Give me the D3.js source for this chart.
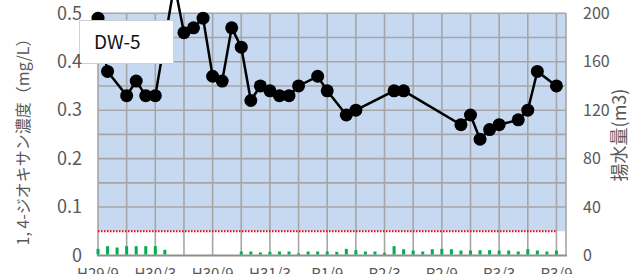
<!DOCTYPE html>
<html lang="ja">
<head>
<meta charset="UTF-8">
<title>DW-5</title>
<script src="https://cdn.jsdelivr.net/npm/d3@7"></script>
<style>
  body { margin: 0; background: #fff; }
  text { font-family: "Noto Sans CJK JP", "Noto Sans", sans-serif; }
</style>
</head>
<body>
<script>
// concentration samples (mg/L), by month
var concMonths = ["2017-09","2017-10","2017-12","2018-01","2018-02","2018-03","2018-05","2018-06",
  "2018-07","2018-08","2018-09","2018-10","2018-11","2018-12","2019-01","2019-02","2019-03",
  "2019-04","2019-05","2019-06","2019-08","2019-09","2019-11","2019-12","2020-04","2020-05",
  "2020-11","2020-12","2021-01","2021-02","2021-03","2021-05","2021-06","2021-07","2021-09"];
var concValues = [0.49,0.38,0.33,0.36,0.33,0.33,0.56,0.46,
  0.47,0.49,0.37,0.36,0.47,0.43,0.32,0.35,0.34,
  0.33,0.33,0.35,0.37,0.34,0.29,0.30,0.34,0.34,
  0.27,0.29,0.24,0.26,0.27,0.28,0.30,0.38,0.35];

// pumped volume (m3), monthly
var pumpMonths = ["2017-09","2017-10","2017-11","2017-12","2018-01","2018-02","2018-03","2018-04",
  "2018-12","2019-01","2019-02","2019-03","2019-04","2019-05","2019-06","2019-07","2019-08",
  "2019-09","2019-10","2019-11","2019-12","2020-01","2020-02","2020-03","2020-04","2020-05",
  "2020-06","2020-07","2020-08","2020-09","2020-10","2020-11","2020-12","2021-01","2021-02",
  "2021-03","2021-04","2021-05","2021-06","2021-07","2021-08","2021-09"];
var pumpValues = [5.5,7.7,6.6,7.7,7.7,7.7,7.7,4.7,
  3.3,3.3,2.5,3,3.3,3.3,1.7,3.3,3.3,
  3.3,3,5.5,4.4,3.3,3.3,2.2,7.7,5.2,
  4.1,3.3,5.2,5.5,5.2,4.1,4.1,4.4,4.4,
  4.1,4.1,3.3,5.2,4.1,3.3,4.1];

var guideValue = 0.05;
var guideRange = ["2017-09", "2021-09"];

var xTickMonths = ["2017-09","2018-03","2018-09","2019-03","2019-09","2020-03","2020-09","2021-03","2021-09"];
var xTickLabels = ["H29/9","H30/3","H30/9","H31/3","R1/9","R2/3","R2/9","R3/3","R3/9"];
var yTicks = [0, 0.1, 0.2, 0.3, 0.4, 0.5];
var y2Ticks = [0, 40, 80, 120, 160, 200];

var w = 630, h = 274;
var plotLeft = 98, plotRight = 566, plotTop = 13.3, plotBottom = 255.5;

function mi(s) {
  var p = s.split("-").map(Number);
  return (p[0] - 2017) * 12 + (p[1] - 9);
}

var x = d3.scaleLinear().domain([0, 49]).range([plotLeft, plotRight]);
var y = d3.scaleLinear().domain([0, 0.5]).range([plotBottom, plotTop]);
var y2 = d3.scaleLinear().domain([0, 200]).range([plotBottom, plotTop]);

var svg = d3.select("body").append("svg")
  .attr("width", w)
  .attr("height", h);

// blue band above the guide value
svg.append("rect")
  .attr("x", x(0)).attr("y", y(0.5))
  .attr("width", x(49) - x(0))
  .attr("height", y(guideValue) - y(0.5))
  .attr("fill", "#c6d9f1");

// grid
var grid = svg.append("g").attr("stroke", "#a6a6a6").attr("stroke-width", 1.6);
grid.selectAll("line.h")
  .data(d3.range(2, 11).map(function(k) { return k * 0.05; }))
  .enter().append("line")
  .attr("class", "h")
  .attr("x1", x(0)).attr("x2", x(49))
  .attr("y1", function(d) { return y(d); })
  .attr("y2", function(d) { return y(d); });
grid.selectAll("line.v")
  .data(d3.range(0, 17).map(function(k) { return k * 3; }).concat([49]))
  .enter().append("line")
  .attr("class", "v")
  .attr("x1", function(d) { return x(d); })
  .attr("x2", function(d) { return x(d); })
  .attr("y1", y(0.5)).attr("y2", y(0));

// bottom axis line
svg.append("line")
  .attr("x1", x(0) - 1).attr("x2", x(49) + 1)
  .attr("y1", y(0)).attr("y2", y(0))
  .attr("stroke", "#8f8f8f").attr("stroke-width", 2);

// pumping bars (right axis)
svg.selectAll("rect.bar")
  .data(pumpValues)
  .enter().append("rect")
  .attr("class", "bar")
  .attr("x", function(d, i) { return x(mi(pumpMonths[i])) - 1.5; })
  .attr("y", function(d) { return y2(d); })
  .attr("width", 3)
  .attr("height", function(d) { return y2(0) - y2(d) - 1; })
  .attr("fill", "#00b050");

// guide line
svg.append("path")
  .datum(guideRange)
  .attr("d", d3.line()
    .x(function(d) { return x(mi(d)); })
    .y(function() { return y(guideValue); }))
  .attr("stroke", "#ff0000")
  .attr("stroke-width", 2)
  .attr("stroke-dasharray", "1.5,1.5")
  .attr("fill", "none");

// concentration line + markers
var line = d3.line()
  .x(function(d, i) { return x(mi(concMonths[i])); })
  .y(function(d) { return y(d); });

svg.append("path")
  .datum(concValues)
  .attr("d", line)
  .attr("fill", "none")
  .attr("stroke", "#000")
  .attr("stroke-width", 2.5);

svg.selectAll("circle")
  .data(concValues)
  .enter().append("circle")
  .attr("cx", function(d, i) { return x(mi(concMonths[i])); })
  .attr("cy", function(d) { return y(d); })
  .attr("r", 6.5)
  .attr("fill", "#000");

// legend box
svg.append("rect")
  .attr("x", 79.5).attr("y", 20.5)
  .attr("width", 94).attr("height", 43)
  .attr("fill", "#fff")
  .attr("stroke", "#d0d0d0");
svg.append("text")
  .attr("x", 94).attr("y", 48.5)
  .attr("font-size", 19)
  .attr("fill", "#111")
  .text("DW-5");

// left axis labels
svg.append("g")
  .attr("transform", "translate(" + (plotLeft - 16) + ",0)")
  .call(d3.axisLeft(y).tickValues(yTicks).tickSize(0).tickPadding(0)
    .tickFormat(function(d) { return d === 0 ? "0" : d3.format(".1f")(d); }))
  .call(function(g) { g.select(".domain").remove(); })
  .selectAll("text")
  .attr("font-family", "'Noto Sans CJK JP', sans-serif")
  .attr("font-size", 18)
  .attr("fill", "#595959");

// right axis labels
svg.append("g")
  .attr("transform", "translate(" + (plotRight + 17) + ",0)")
  .call(d3.axisRight(y2).tickValues(y2Ticks).tickSize(0).tickPadding(0))
  .call(function(g) { g.select(".domain").remove(); })
  .selectAll("text")
  .attr("font-family", "'Noto Sans CJK JP', sans-serif")
  .attr("font-size", 16)
  .attr("fill", "#595959");

// bottom labels
svg.selectAll("text.xl")
  .data(xTickLabels)
  .enter().append("text")
  .attr("class", "xl")
  .attr("x", function(d, i) { return x(mi(xTickMonths[i])); })
  .attr("y", 279)
  .attr("text-anchor", "middle")
  .attr("font-size", 15)
  .attr("fill", "#595959")
  .text(function(d) { return d; });

// axis titles
svg.append("text")
  .attr("transform", "translate(29,138) rotate(-90)")
  .attr("text-anchor", "middle")
  .attr("font-size", 16)
  .attr("fill", "#595959")
  .text("1, 4-ジオキサン濃度（mg/L）");

svg.append("text")
  .attr("transform", "translate(626,135) rotate(-90)")
  .attr("text-anchor", "middle")
  .attr("font-size", 18)
  .attr("fill", "#595959")
  .text("揚水量(m3)");
</script>
</body>
</html>
